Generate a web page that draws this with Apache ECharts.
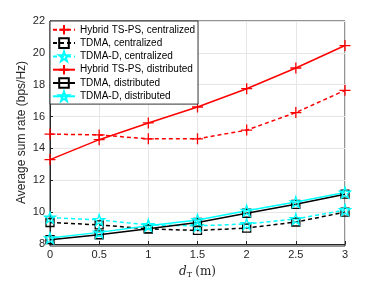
<!DOCTYPE html>
<html><head><meta charset="utf-8">
<script src="https://cdn.jsdelivr.net/npm/echarts@6/dist/echarts.min.js"></script>
<style>html,body{margin:0;padding:0;background:#fff}#c{width:382px;height:284px}</style>
</head><body><div id="c"></div>
<script>
const xValues = [0, 0.5, 1, 1.5, 2, 2.5, 3];
const hybridCentralized = [14.9, 14.85, 14.6, 14.6, 15.15, 16.25, 17.65];
const tdmaCentralized = [9.35, 9.2, 8.95, 8.85, 9.0, 9.38, 10.0];
const tdmaDCentralized = [9.66, 9.51, 9.2, 9.14, 9.26, 9.57, 10.13];
const hybridDistributed = [13.3, 14.55, 15.6, 16.6, 17.75, 19.05, 20.46];
const tdmaDistributed = [8.27, 8.58, 8.95, 9.35, 9.93, 10.49, 11.13];
const tdmaDDistributed = [8.37, 8.73, 9.14, 9.51, 10.09, 10.63, 11.23];
const seriesNames = ['Hybrid TS-PS, centralized','TDMA, centralized','TDMA-D, centralized','Hybrid TS-PS, distributed','TDMA, distributed','TDMA-D, distributed'];

const RED = '#ff0000', BLACK = '#000000', CYAN = '#00ffff';
const plusPath = 'path://M5,0L5,10M0,5L10,5';
const starPath = 'path://M50,0L61.8,34.5L97.6,34.5L68.8,55.9L79.4,90.5L50,69.1L20.6,90.5L31.2,55.9L2.4,34.5L38.2,34.5Z';

function mk(name, data, color, dashed, kind) {
  let symbol, size;
  if (kind === 'plus') { symbol = plusPath; size = 11; }
  else if (kind === 'square') { symbol = 'rect'; size = 8; }
  else { symbol = starPath; size = 11; }
  return {
    name, type: 'line', data: xValues.map((x, i) => [x, data[i]]),
    symbol, symbolSize: size, showAllSymbol: true,
    lineStyle: {color, width: 1.5, type: dashed ? [4, 3] : 'solid'},
    itemStyle: {color: 'rgba(0,0,0,0)', borderColor: color, borderWidth: 1.3},
    emphasis: {disabled: true}, animation: false, z: 3
  };
}

const chart = echarts.init(document.getElementById('c'), null, {renderer: 'canvas'});
chart.setOption({
  backgroundColor: '#ffffff',
  animation: false,
  grid: {left: 50, right: 37, top: 21, bottom: 38, show: false},
  legend: {
    data: seriesNames, orient: 'vertical', left: 50, top: 21,
    backgroundColor: '#ffffff', borderColor: '#333333', borderWidth: 1, borderRadius: 0,
    padding: [3, 3, 2, 2], itemGap: 1.7, itemWidth: 22, itemHeight: 12,
    textStyle: {fontFamily: 'Liberation Sans', fontSize: 10, color: '#000', padding: [0, 0, 0, 0]},
    z: 10
  },
  xAxis: {
    type: 'value', min: 0, max: 3, interval: 0.5,
    axisLine: {show: true, lineStyle: {color: '#262626', width: 1}},
    axisTick: {inside: true, length: 3, lineStyle: {color: '#262626'}},
    axisLabel: {color: '#262626', fontFamily: 'Liberation Sans', fontSize: 11, margin: 5},
    splitLine: {show: true, lineStyle: {color: '#e6e6e6', width: 1}},
    name: '{d|d}{t|T} {m|(m)}', nameLocation: 'middle', nameGap: 21, nameMoveOverlap: false,
    nameTextStyle: {rich: {
      d: {fontFamily: 'DejaVu Serif', fontStyle: 'italic', fontSize: 12, color: '#262626'},
      t: {fontFamily: 'DejaVu Serif', fontSize: 8, color: '#262626', verticalAlign: 'bottom', padding: [6, 0, 0, 0]},
      m: {fontFamily: 'DejaVu Serif', fontSize: 12, color: '#262626'}
    }}
  },
  yAxis: {
    type: 'value', min: 8, max: 22, interval: 2,
    axisLine: {show: true, lineStyle: {color: '#262626', width: 1}},
    axisTick: {show: true, inside: true, length: 3, lineStyle: {color: '#262626'}},
    axisLabel: {color: '#262626', fontFamily: 'Liberation Sans', fontSize: 11, margin: 5},
    splitLine: {show: true, lineStyle: {color: '#e6e6e6', width: 1}},
    name: 'Average sum rate (bps/Hz)', nameLocation: 'middle', nameGap: 22, nameMoveOverlap: false,
    nameTextStyle: {fontFamily: 'Liberation Sans', fontSize: 12, color: '#262626'}
  },
  series: [
    mk(seriesNames[0], hybridCentralized, RED, true, 'plus'),
    mk(seriesNames[1], tdmaCentralized, BLACK, true, 'square'),
    mk(seriesNames[2], tdmaDCentralized, CYAN, true, 'star'),
    mk(seriesNames[3], hybridDistributed, RED, false, 'plus'),
    mk(seriesNames[4], tdmaDistributed, BLACK, false, 'square'),
    mk(seriesNames[5], tdmaDDistributed, CYAN, false, 'star')
  ],
  graphic: [
    {type: 'rect', shape: {x: 50, y: 21, width: 295, height: 225}, style: {fill: 'none', stroke: '#262626', lineWidth: 1}, z: 0, silent: true}
  ]
});
</script></body></html>
